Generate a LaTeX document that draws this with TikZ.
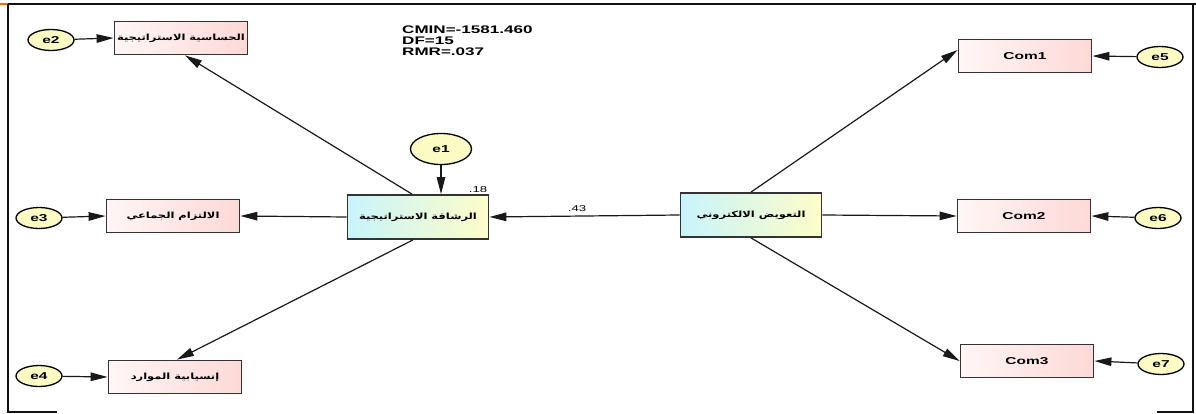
\documentclass[tikz,border=0pt]{standalone}
\usepackage{fontspec}
\usepackage{graphicx}
\usetikzlibrary{arrows.meta,calc,shapes.geometric}
\TeXXeTstate=1
\newfontfamily\latinw[FakeStretch=1.55]{Liberation Sans}
\newfontfamily\arw[Script=Arabic,FakeStretch=1.35]{DejaVu Sans}
\newcommand{\ar}[1]{{\arw\bfseries\beginR #1\endR}}

\definecolor{pinkL}{HTML}{FFF6F6}
\definecolor{pinkR}{HTML}{FDD9D7}
\definecolor{cyanL}{HTML}{C8F4FB}
\definecolor{yellR}{HTML}{FDFDC8}
\definecolor{errfill}{HTML}{FCFBC3}
\definecolor{boxline}{HTML}{333333}
\definecolor{framecol}{HTML}{111111}

\tikzset{
  obsbox/.style={draw=boxline, line width=1.8pt, minimum width=133pt, minimum height=33pt,
    inner sep=0pt, left color=pinkL, right color=pinkR, font=\fontsize{8.5}{9}\selectfont},
  latbox/.style={draw=boxline, line width=1.8pt, minimum width=141pt, minimum height=44pt,
    inner sep=0pt, left color=cyanL, right color=yellR, font=\fontsize{8.5}{9}\selectfont},
  errnode/.style={ellipse, draw=black, line width=1.3pt, fill=errfill, minimum width=46pt,
    minimum height=21pt, inner sep=0pt, font=\latinw\bfseries\fontsize{10}{10}\selectfont},
  path/.style={draw=black!90, line width=1.2pt, -{Triangle[length=17pt,width=8.5pt]}},
  coef/.style={font=\latinw\fontsize{8.5}{9}\selectfont, inner sep=0pt},
  frameline/.style={draw=framecol, line width=1.6pt}
}

\begin{document}
\begin{tikzpicture}[x=1pt,y=-1pt]
  \useasboundingbox (0,0) rectangle (1196,414);

  % outer frame
  \draw[draw=orange!80!red, line width=2.5pt] (0,4) -- (8,4);
  \draw[frameline, line width=2.8pt] (8,4) -- (1196,4);
  \draw[frameline] (8,4) -- (8,412) -- (57,412);
  \draw[frameline] (1193,4) -- (1193,412) -- (1157,412);

  % fit statistics
  \node[anchor=north west, align=left, inner sep=0pt,
        font=\latinw\bfseries\fontsize{11}{10.8}\selectfont] (fit) at (402,26)
    {CMIN=-1581.460\\DF=15\\RMR=.037};

  % latent variables
  \node[latbox] (agil) at (418,217) {\ar{الرشاقة الاستراتيجية}};
  \node[latbox] (comp) at (751,215) {\ar{التعويض الالكتروني}};

  % indicators of the left construct
  \node[obsbox] (sens) at (181,38)  {\ar{الحساسية الاستراتيجية}};
  \node[obsbox] (comm) at (173,216) {\ar{الالتزام  الجماعي}};
  \node[obsbox] (flow) at (175,377) {\ar{إنسيابية الموارد}};

  % indicators of the right construct
  \node[obsbox, font=\latinw\bfseries\fontsize{10}{10}\selectfont] (c1) at (1025,56)  {Com1};
  \node[obsbox, font=\latinw\bfseries\fontsize{10}{10}\selectfont] (c2) at (1024,216) {Com2};
  \node[obsbox, font=\latinw\bfseries\fontsize{10}{10}\selectfont] (c3) at (1027,361) {Com3};

  % error terms
  \node[errnode, minimum width=61pt, minimum height=31pt] (e1) at (441,149) {e1};
  \node[errnode] (e2) at (51,40)   {e2};
  \node[errnode] (e3) at (39,218)  {e3};
  \node[errnode] (e4) at (39,376)  {e4};
  \node[errnode] (e5) at (1160,57) {e5};
  \node[errnode] (e6) at (1158,218) {e6};
  \node[errnode] (e7) at (1161,364) {e7};

  % structural path
  \draw[path] (comp.west) -- (agil.east);
  \node[coef, anchor=south] (p43) at (577,212) {.43};
  \node[coef, anchor=south] (r18) at (478,193) {.18};

  % loadings
  \draw[path] ($(agil.north)+(-6,0)$) -- ($(sens.south)+(4,0)$);
  \draw[path] (agil.west) -- (comm.east);
  \draw[path] ($(agil.south)+(-5,0)$) -- ($(flow.north)+(2,0)$);
  \draw[path] (comp.north) -- ($(c1.west)+(0,-6)$);
  \draw[path] (comp.east) -- (c2.west);
  \draw[path] (comp.south) -- (c3.west);

  % error arrows
  \draw[path] (e1) -- (e1|-agil.north);
  \draw[path] (e2) -- (sens.west);
  \draw[path] (e3) -- (comm.west);
  \draw[path] (e4) -- (flow.west);
  \draw[path] (e5) -- (c1.east);
  \draw[path] (e6) -- (c2.east);
  \draw[path] (e7) -- (c3.east);
\end{tikzpicture}
\end{document}
